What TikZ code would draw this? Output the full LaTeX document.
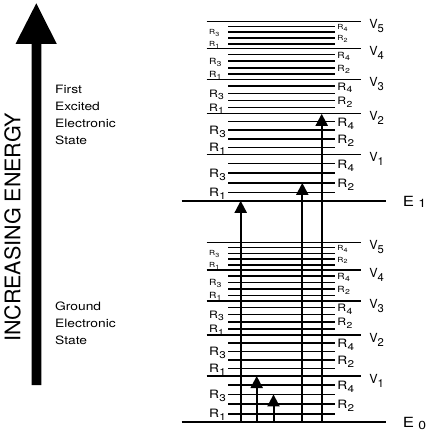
\documentclass[tikz,border=0pt]{standalone}
\usepackage{fontspec}
\usepackage{graphicx}
\setmainfont{TeX Gyre Heros}
\newfontfamily\widefont[FakeStretch=1.2]{TeX Gyre Heros}
\usetikzlibrary{arrows.meta}
% subscript: [scale]{lowering}{text}
\newcommand\lsub[3][0.85]{\raisebox{-#2}{\scalebox{#1}{#3}}}
\tikzset{
  eline/.style={line width=2.6pt},
  vline/.style={line width=1.3pt},
  rline/.style={line width=1.6pt},
  trans/.style={line width=2pt,-{Triangle[width=12pt,length=12pt]}},
  lab/.style={inner sep=0pt,anchor=base west},
}
\begin{document}
\begin{tikzpicture}[x=1pt,y=-1pt]
\useasboundingbox (0,0) rectangle (437,438);
% big energy arrow
\fill[black] (31.5,385) -- (31.5,44) -- (15.5,44) -- (36.3,3.3) -- (56.8,44) -- (41.3,44) -- (41.3,385) -- cycle;
\node[inner sep=0pt,rotate=90,font=\fontsize{21.5}{21.5}\selectfont] (inc) at (12.6,227.5) {INCREASING ENERGY};
\node[lab,font=\widefont\fontsize{11.5}{16.7}\selectfont] (exc) at (55,94)
  {\begin{tabular}[t]{@{}l@{}}First\\Excited\\Electronic\\State\end{tabular}};
\node[lab,font=\widefont\fontsize{11.5}{16.7}\selectfont] (gnd) at (55,310.7)
  {\begin{tabular}[t]{@{}l@{}}Ground\\Electronic\\State\end{tabular}};
% energy level stacks
\foreach \E/\s/\en in {200.8/x/1, 422/g/0}{
  \draw[eline] (181.7,\E) -- (386,\E);
  \node[lab,font=\widefont\fontsize{14}{14}\selectfont] (\s-E) at (402.7,\E+5.3) {E\hspace{0.3em}\lsub[0.83]{0.25ex}{\en}};
  \foreach \k/\d in {1/46,2/87,3/121,4/152,5/179.6}{
    \draw[vline] (206.7,\E-\d) -- (360.7,\E-\d);
    \node[lab,font=\fontsize{12.5}{12.5}\selectfont] (\s-V\k) at (369.2,\E-\d+7) {V\lsub[0.9]{0.63ex}{\k}};
  }
  \foreach \b/\lo/\hi/\fs in {1/0/46/11.5, 2/46/87/11.5, 3/87/121/10.2, 4/121/152/8.5, 5/152/179.6/7}{
    \foreach \f/\n in {0.18/1,0.60/3}{
      \pgfmathsetmacro\yy{\E-\lo-\f*(\hi-\lo)}
      \pgfmathsetmacro\yl{\yy+0.36*\fs}
      \draw[rline] (228,\yy) -- (334.5,\yy);
      \node[lab,font=\widefont\fontsize{\fs}{\fs}\selectfont] (\s-b\b-r\n) at (208.9,\yl) {R\hspace{0.03em}\lsub{0.48ex}{\n}};
    }
    \foreach \f/\n in {0.39/2,0.81/4}{
      \pgfmathsetmacro\yy{\E-\lo-\f*(\hi-\lo)}
      \pgfmathsetmacro\yl{\yy+0.4*\fs}
      \draw[rline] (228,\yy) -- (334.5,\yy);
      \node[lab,font=\widefont\fontsize{\fs}{\fs}\selectfont] (\s-b\b-r\n) at (337.2,\yl) {R\hspace{0.03em}\lsub{0.48ex}{\n}};
    }
  }
}
% transitions
\coordinate (a1s) at (240.7,422);   \coordinate (a1e) at (240.7,200.8);
\coordinate (a2s) at (302.3,422);   \coordinate (a2e) at (302.3,182.9);
\coordinate (a3s) at (321.7,422);   \coordinate (a3e) at (321.7,113.8);
\coordinate (a4s) at (256.7,422);   \coordinate (a4e) at (256.7,376);
\coordinate (a5s) at (273.5,422);   \coordinate (a5e) at (273.5,394.4);
\draw[trans] (a1s) -- (a1e);
\draw[trans] (a2s) -- (a2e);
\draw[trans] (a3s) -- (a3e);
\draw[trans] (a4s) -- (a4e);
\draw[trans] (a5s) -- (a5e);
\end{tikzpicture}
\end{document}
